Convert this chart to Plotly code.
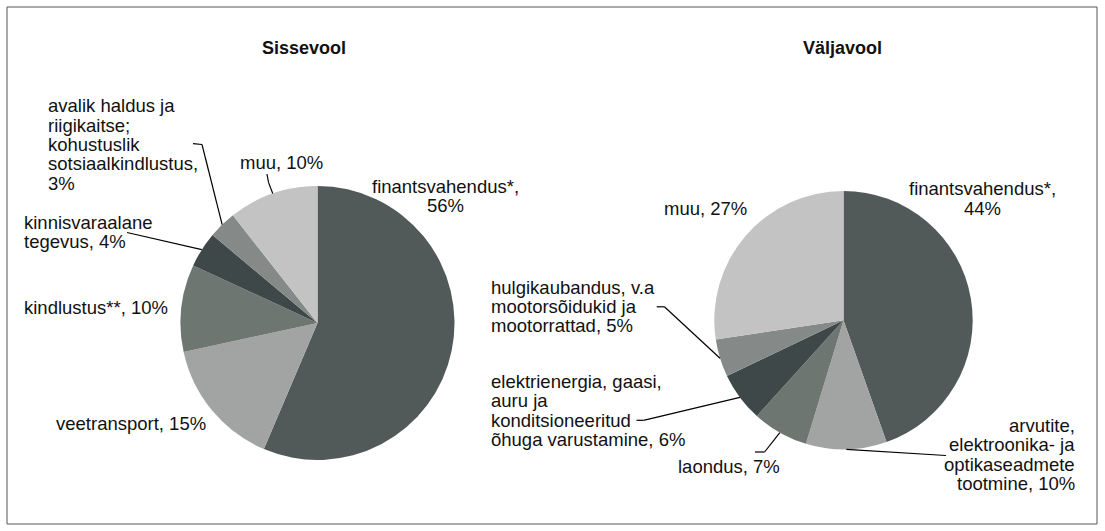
import math
import plotly.graph_objects as go

W, H = 1105, 531

# Sissevool
sisse_nimed = ["finantsvahendus*", "veetransport", "kindlustus**", "kinnisvaraalane tegevus",
               "avalik haldus ja riigikaitse; kohustuslik sotsiaalkindlustus", "muu"]
sisse_vaartused = [56.4, 15.2, 10.3, 4.2, 3.3, 10.6]
sisse_sildid = ["finantsvahendus*,\n56%", "veetransport, 15%", "kindlustus**, 10%",
                "kinnisvaraalane\ntegevus, 4%",
                "avalik haldus ja\nriigikaitse;\nkohustuslik\nsotsiaalkindlustus,\n3%", "muu, 10%"]

# Väljavool
valja_nimed = ["finantsvahendus*", "arvutite, elektroonika- ja optikaseadmete tootmine", "laondus",
               "elektrienergia, gaasi, auru ja konditsioneeritud õhuga varustamine",
               "hulgikaubandus, v.a mootorsõidukid ja mootorrattad", "muu"]
valja_vaartused = [44.6, 10.1, 7.0, 6.2, 4.7, 27.4]
valja_sildid = ["finantsvahendus*,\n44%", "arvutite,\nelektroonika- ja\noptikaseadmete\ntootmine, 10%",
                "laondus, 7%", "elektrienergia, gaasi,\nauru ja\nkonditsioneeritud\nõhuga varustamine, 6%",
                "hulgikaubandus, v.a\nmootorsõidukid ja\nmootorrattad, 5%", "muu, 27%"]

varvid = ["#525a59", "#a2a4a3", "#6e7672", "#3e4848", "#858988", "#c3c3c3"]

FONT = "Liberation Sans, Arial, sans-serif"
SUURUS = 18.5
REA = 19.3  # reavahe px


def px(x):
    return x / W


def py(y):
    return 1 - y / H


def serv(vaartused, i, cx, cy, r):
    # viilu keskkoha punkt ringi serval
    tot = sum(vaartused)
    a0 = sum(vaartused[:i]) / tot
    a = 2 * math.pi * (a0 + vaartused[i] / tot / 2)
    return cx + r * math.sin(a), cy - r * math.cos(a)


# (keskpunkt x, y, raadius) pikslites
pirukad = [
    dict(nimi="Sissevool", nimed=sisse_nimed, vaartused=sisse_vaartused, sildid=sisse_sildid,
         cx=317.5, cy=323, r=137, pealkiri_x=304,
         kohad=[(445, 186, "center"), (54, 423, "left"), (22, 307, "left"), (22, 222.5, "left"),
                (46, 106, "left"), (281, 162, "center")],
         jooned=[None, None, None, [(127, 232.5)], [(193, 143.7), (202, 144.5)], [(267, 174), (268.6, 182.6)]]),
    dict(nimi="Väljavool", nimed=valja_nimed, vaartused=valja_vaartused, sildid=valja_sildid,
         cx=843.5, cy=320.2, r=129.2, pealkiri_x=842,
         kohad=[(982, 189, "center"), (1077, 425.4, "right"), (676, 466, "left"), (489, 381.5, "left"),
                (489, 287, "left"), (705, 208.5, "center")],
         jooned=[None, [(946, 455.5)], [(755, 452), (764.6, 452)], [(636.5, 420.3), (643.5, 420.3)],
                 [(656.7, 306.8), (664.4, 306.8)], None]),
]

fig = go.Figure()
annots = []
shapes = []

for p in pirukad:
    cx, cy, r = p["cx"], p["cy"], p["r"]
    fig.add_trace(go.Pie(
        labels=p["nimed"], values=p["vaartused"], sort=False, direction="clockwise", rotation=0,
        marker=dict(colors=varvid, line=dict(width=0)), textinfo="none", hoverinfo="label+percent",
        domain=dict(x=[px(cx - r), px(cx + r)], y=[py(cy + r), py(cy - r)]),
    ))
    annots.append(dict(text="<b>%s</b>" % p["nimi"], x=px(p["pealkiri_x"]), y=py(48.5),
                       xref="paper", yref="paper", showarrow=False, xanchor="center", yanchor="middle",
                       font=dict(family=FONT, size=18, color="#111")))
    for i, silt in enumerate(p["sildid"]):
        x0, y0, joondus = p["kohad"][i]
        for j, rida in enumerate(silt.split("\n")):
            annots.append(dict(text=rida, x=px(x0), y=py(y0 + j * REA), xref="paper", yref="paper",
                               showarrow=False, xanchor=joondus, yanchor="middle",
                               font=dict(family=FONT, size=SUURUS, color="#111")))
        if p["jooned"][i]:
            punktid = p["jooned"][i] + [serv(p["vaartused"], i, cx, cy, r)]
            for (xa, ya), (xb, yb) in zip(punktid[:-1], punktid[1:]):
                shapes.append(dict(type="line", xref="paper", yref="paper",
                                   x0=px(xa), y0=py(ya), x1=px(xb), y1=py(yb),
                                   line=dict(color="#000", width=1.2)))

# raam
shapes.append(dict(type="rect", xref="paper", yref="paper", x0=px(7), y0=py(524), x1=px(1097), y1=py(7),
                   line=dict(color="#555", width=1)))

fig.update_layout(
    width=W, height=H, margin=dict(l=0, r=0, t=0, b=0),
    paper_bgcolor="white", plot_bgcolor="white", showlegend=False,
    annotations=annots, shapes=shapes,
)

fig.write_html("out.html", config={"displayModeBar": False},
               post_script="document.body.style.margin='0';")
